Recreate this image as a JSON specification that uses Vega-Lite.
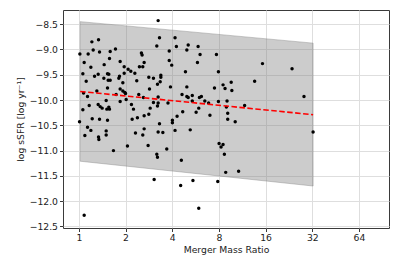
{
  "$schema": "https://vega.github.io/schema/vega-lite/v6.json",
  "width": 326,
  "height": 218,
  "autosize": "none",
  "padding": {"left": 63, "top": 10, "right": 10, "bottom": 38},
  "background": "white",
  "config": {
    "font": "DejaVu Sans",
    "view": {"stroke": "#3a3a3a", "strokeWidth": 1},
    "axis": {
      "domain": false,
      "grid": true,
      "gridColor": "#dedede",
      "gridWidth": 1,
      "tickColor": "#3a3a3a",
      "tickSize": 3.5,
      "labelFont": "DejaVu Sans",
      "labelFontSize": 9.25,
      "labelColor": "#222",
      "titleFont": "DejaVu Sans",
      "titleFontSize": 9.25,
      "titleFontWeight": "normal",
      "titleColor": "#222",
      "labelPadding": 2
    }
  },
  "datasets": {
    "points": [
      {"ratio": 1.015, "ssfr": -9.09}, {"ratio": 1.082, "ssfr": -9.26}, {"ratio": 1.061, "ssfr": -9.48}, {"ratio": 1.115, "ssfr": -9.63},
      {"ratio": 1.072, "ssfr": -9.86}, {"ratio": 1.137, "ssfr": -9.93}, {"ratio": 1.01, "ssfr": -10.43}, {"ratio": 1.061, "ssfr": -10.19},
      {"ratio": 1.166, "ssfr": -10.11}, {"ratio": 1.093, "ssfr": -10.70}, {"ratio": 1.137, "ssfr": -10.54}, {"ratio": 1.195, "ssfr": -10.60},
      {"ratio": 1.082, "ssfr": -12.28}, {"ratio": 1.148, "ssfr": -9.09}, {"ratio": 1.213, "ssfr": -8.85}, {"ratio": 1.195, "ssfr": -9.35},
      {"ratio": 1.237, "ssfr": -9.01}, {"ratio": 1.262, "ssfr": -9.53}, {"ratio": 1.339, "ssfr": -8.81}, {"ratio": 1.359, "ssfr": -9.05},
      {"ratio": 1.332, "ssfr": -9.49}, {"ratio": 1.456, "ssfr": -9.30}, {"ratio": 1.306, "ssfr": -9.82}, {"ratio": 1.219, "ssfr": -10.37},
      {"ratio": 1.332, "ssfr": -10.09}, {"ratio": 1.372, "ssfr": -10.13}, {"ratio": 1.413, "ssfr": -10.16}, {"ratio": 1.359, "ssfr": -10.38},
      {"ratio": 1.339, "ssfr": -10.73}, {"ratio": 1.346, "ssfr": -10.78}, {"ratio": 1.449, "ssfr": -9.57}, {"ratio": 1.530, "ssfr": -9.48},
      {"ratio": 1.592, "ssfr": -9.04}, {"ratio": 1.722, "ssfr": -8.99}, {"ratio": 1.576, "ssfr": -9.18}, {"ratio": 1.545, "ssfr": -9.61},
      {"ratio": 1.592, "ssfr": -9.61}, {"ratio": 1.560, "ssfr": -9.49}, {"ratio": 1.530, "ssfr": -9.76}, {"ratio": 1.500, "ssfr": -10.01},
      {"ratio": 1.515, "ssfr": -10.18}, {"ratio": 1.560, "ssfr": -10.14}, {"ratio": 1.576, "ssfr": -10.18}, {"ratio": 1.530, "ssfr": -10.40},
      {"ratio": 1.500, "ssfr": -10.61}, {"ratio": 1.500, "ssfr": -10.69}, {"ratio": 1.671, "ssfr": -11.00}, {"ratio": 1.739, "ssfr": -9.89},
      {"ratio": 1.846, "ssfr": -9.24}, {"ratio": 1.828, "ssfr": -9.53}, {"ratio": 1.810, "ssfr": -9.57}, {"ratio": 1.846, "ssfr": -9.78},
      {"ratio": 1.921, "ssfr": -9.82}, {"ratio": 1.979, "ssfr": -9.85}, {"ratio": 2.018, "ssfr": -9.99}, {"ratio": 1.846, "ssfr": -10.03},
      {"ratio": 1.960, "ssfr": -9.47}, {"ratio": 1.921, "ssfr": -9.66}, {"ratio": 1.960, "ssfr": -9.34}, {"ratio": 2.078, "ssfr": -9.39},
      {"ratio": 2.163, "ssfr": -9.43}, {"ratio": 1.999, "ssfr": -9.87}, {"ratio": 2.057, "ssfr": -10.91}, {"ratio": 2.183, "ssfr": -10.09},
      {"ratio": 2.206, "ssfr": -10.38}, {"ratio": 2.250, "ssfr": -10.18}, {"ratio": 2.296, "ssfr": -9.47}, {"ratio": 2.362, "ssfr": -9.62},
      {"ratio": 2.317, "ssfr": -10.65}, {"ratio": 2.385, "ssfr": -10.35}, {"ratio": 2.433, "ssfr": -9.89}, {"ratio": 2.457, "ssfr": -9.34},
      {"ratio": 2.531, "ssfr": -9.07}, {"ratio": 2.557, "ssfr": -9.11}, {"ratio": 2.583, "ssfr": -9.34}, {"ratio": 2.636, "ssfr": -9.26},
      {"ratio": 2.609, "ssfr": -9.95}, {"ratio": 2.583, "ssfr": -10.69}, {"ratio": 2.636, "ssfr": -10.57}, {"ratio": 2.636, "ssfr": -10.31},
      {"ratio": 2.825, "ssfr": -9.55}, {"ratio": 2.854, "ssfr": -9.78}, {"ratio": 2.825, "ssfr": -10.28}, {"ratio": 2.883, "ssfr": -10.16},
      {"ratio": 2.796, "ssfr": -10.90}, {"ratio": 3.027, "ssfr": -9.57}, {"ratio": 3.027, "ssfr": -10.05}, {"ratio": 3.058, "ssfr": -11.57},
      {"ratio": 3.181, "ssfr": -8.93}, {"ratio": 3.245, "ssfr": -8.43}, {"ratio": 3.311, "ssfr": -8.77}, {"ratio": 3.213, "ssfr": -9.69},
      {"ratio": 3.245, "ssfr": -9.94}, {"ratio": 3.245, "ssfr": -10.06}, {"ratio": 3.213, "ssfr": -10.12}, {"ratio": 3.311, "ssfr": -10.47},
      {"ratio": 3.245, "ssfr": -10.63}, {"ratio": 3.181, "ssfr": -11.07}, {"ratio": 3.213, "ssfr": -11.13}, {"ratio": 3.378, "ssfr": -9.51},
      {"ratio": 3.378, "ssfr": -9.55}, {"ratio": 3.345, "ssfr": -9.64}, {"ratio": 3.480, "ssfr": -10.64}, {"ratio": 3.688, "ssfr": -10.97},
      {"ratio": 3.756, "ssfr": -10.06}, {"ratio": 3.826, "ssfr": -9.22}, {"ratio": 3.897, "ssfr": -9.74}, {"ratio": 3.826, "ssfr": -9.03},
      {"ratio": 3.970, "ssfr": -9.31}, {"ratio": 4.009, "ssfr": -10.40}, {"ratio": 4.009, "ssfr": -10.45}, {"ratio": 4.171, "ssfr": -8.77},
      {"ratio": 4.255, "ssfr": -8.94}, {"ratio": 4.171, "ssfr": -10.60}, {"ratio": 4.299, "ssfr": -10.32}, {"ratio": 4.534, "ssfr": -11.69},
      {"ratio": 4.580, "ssfr": -11.19}, {"ratio": 4.627, "ssfr": -9.89}, {"ratio": 4.674, "ssfr": -10.23}, {"ratio": 4.868, "ssfr": -9.44},
      {"ratio": 4.969, "ssfr": -9.93}, {"ratio": 4.969, "ssfr": -9.01}, {"ratio": 4.969, "ssfr": -9.74}, {"ratio": 5.071, "ssfr": -8.91},
      {"ratio": 5.071, "ssfr": -9.95}, {"ratio": 5.226, "ssfr": -10.59}, {"ratio": 5.387, "ssfr": -9.91}, {"ratio": 5.440, "ssfr": -11.59},
      {"ratio": 5.387, "ssfr": -10.02}, {"ratio": 5.704, "ssfr": -10.24}, {"ratio": 5.817, "ssfr": -9.26}, {"ratio": 5.874, "ssfr": -8.94},
      {"ratio": 5.931, "ssfr": -10.16}, {"ratio": 5.990, "ssfr": -9.95}, {"ratio": 6.048, "ssfr": -9.10}, {"ratio": 5.931, "ssfr": -12.14},
      {"ratio": 6.168, "ssfr": -9.93}, {"ratio": 6.489, "ssfr": -10.02}, {"ratio": 6.865, "ssfr": -10.06}, {"ratio": 7.002, "ssfr": -10.30},
      {"ratio": 7.491, "ssfr": -9.76}, {"ratio": 7.712, "ssfr": -9.10}, {"ratio": 7.942, "ssfr": -9.44}, {"ratio": 7.942, "ssfr": -10.03},
      {"ratio": 7.866, "ssfr": -11.61}, {"ratio": 8.021, "ssfr": -10.86}, {"ratio": 8.261, "ssfr": -10.93}, {"ratio": 8.508, "ssfr": -10.88},
      {"ratio": 8.508, "ssfr": -9.70}, {"ratio": 8.676, "ssfr": -11.07}, {"ratio": 8.763, "ssfr": -9.77}, {"ratio": 8.851, "ssfr": -11.43},
      {"ratio": 8.939, "ssfr": -10.14}, {"ratio": 9.118, "ssfr": -10.26}, {"ratio": 9.118, "ssfr": -10.38}, {"ratio": 9.028, "ssfr": -10.02},
      {"ratio": 9.601, "ssfr": -9.65}, {"ratio": 9.696, "ssfr": -9.81}, {"ratio": 10.19, "ssfr": -10.43}, {"ratio": 10.72, "ssfr": -11.41},
      {"ratio": 11.72, "ssfr": -10.11}, {"ratio": 13.6, "ssfr": -9.63}, {"ratio": 15.28, "ssfr": -9.28}, {"ratio": 23.7, "ssfr": -9.38},
      {"ratio": 28.3, "ssfr": -9.93}, {"ratio": 32.4, "ssfr": -10.63}
    ],
    "band": [
      {"ratio": 1.02, "upper": -8.45, "lower": -11.21},
      {"ratio": 32.4, "upper": -8.875, "lower": -11.70}
    ],
    "fit": [
      {"ratio": 1.02, "ssfr": -9.83},
      {"ratio": 32.4, "ssfr": -10.29}
    ]
  },
  "layer": [
    {
      "data": {"name": "band"},
      "mark": {"type": "area", "fill": "gray", "fillOpacity": 0.4, "stroke": "gray", "strokeOpacity": 0.4, "strokeWidth": 1},
      "encoding": {
        "x": {
          "field": "ratio", "type": "quantitative",
          "scale": {"type": "log", "base": 2, "domain": [0.79, 100], "nice": false},
          "axis": {"values": [1, 2, 4, 8, 16, 32, 64], "format": "d", "title": "Merger Mass Ratio", "titlePadding": 3}
        },
        "y": {
          "field": "upper", "type": "quantitative",
          "scale": {"domain": [-12.53, -8.22], "nice": false, "zero": false},
          "axis": {
            "tickCount": 9,
            "format": ".1f",
            "labelOverlap": false,
            "labelExpr": "replace(datum.label, '-', '\u2212')",
            "title": "log sSFR [log yr\u207b\u00b9]",
            "titlePadding": 4
          }
        },
        "y2": {"field": "lower"}
      }
    },
    {
      "data": {"name": "points"},
      "mark": {"type": "circle", "color": "black", "opacity": 1, "size": 12},
      "encoding": {
        "x": {"field": "ratio", "type": "quantitative"},
        "y": {"field": "ssfr", "type": "quantitative"}
      }
    },
    {
      "data": {"name": "fit"},
      "mark": {"type": "line", "color": "red", "strokeWidth": 1.6, "strokeDash": [5.5, 2.5]},
      "encoding": {
        "x": {"field": "ratio", "type": "quantitative"},
        "y": {"field": "ssfr", "type": "quantitative"}
      }
    }
  ]
}
